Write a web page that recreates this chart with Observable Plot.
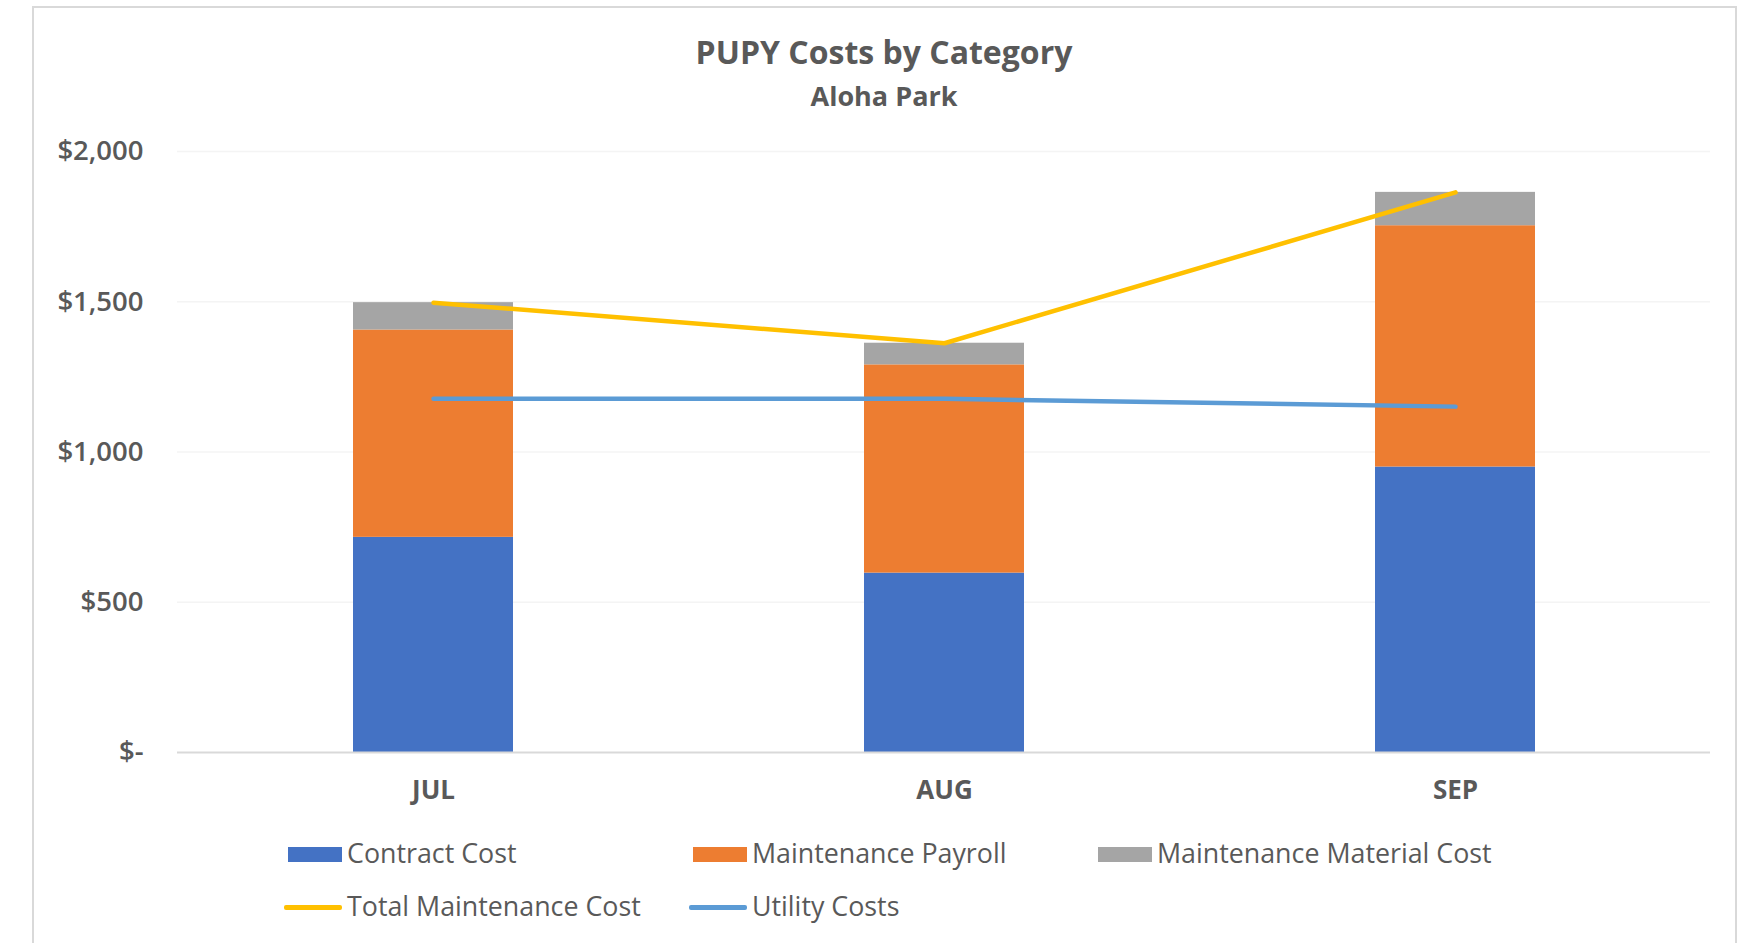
<!DOCTYPE html>
<html>
<head>
<meta charset="utf-8">
<script src="https://cdn.jsdelivr.net/npm/d3@7"></script>
<script src="https://cdn.jsdelivr.net/npm/@observablehq/plot@0.6"></script>
<style>
  html, body { margin: 0; padding: 0; background: #fff; width: 1748px; height: 943px; overflow: hidden; }
  body { position: relative; font-family: "Open Sans", sans-serif; color: #595959; }
  #frame { position: absolute; left: 32px; top: 6px; width: 1705px; height: 1000px; border: 2px solid #D9D9D9; box-sizing: border-box; }
  #title { position: absolute; left: 0; width: 1768px; top: 30px; text-align: center; font-weight: 700; font-size: 32px; line-height: 44px; }
  #subtitle { position: absolute; left: 0; width: 1768px; top: 77px; text-align: center; font-weight: 700; font-size: 27px; line-height: 38px; }
  #chart { position: absolute; left: 0; top: 110px; }
  .leg { position: absolute; font-size: 26.8px; line-height: 32px; white-space: nowrap; }
  .sw { position: absolute; }
</style>
</head>
<body>
<div id="frame"></div>
<div id="title">PUPY Costs by Category</div>
<div id="subtitle">Aloha Park</div>
<div id="chart"></div>
<div id="legend"></div>
<script>
const months = ["JUL", "AUG", "SEP"];
const contractCost = [716, 597, 950];
const maintenancePayroll = [690, 693, 803];
const maintenanceMaterial = [91, 72, 111];
const totalMaintenance = [1497, 1362, 1864];
const utilityCosts = [1177, 1177, 1151];
const barSeries = ["Contract Cost", "Maintenance Payroll", "Maintenance Material Cost"];
const lineSeries = ["Total Maintenance Cost", "Utility Costs"];
const seriesColors = ["#4472C4", "#ED7D31", "#A5A5A5", "#FFC000", "#5B9BD5"];
const yTicks = [0, 500, 1000, 1500, 2000];
const yTickLabels = ["$-", "$500", "$1,000", "$1,500", "$2,000"];

const barValues = [contractCost, maintenancePayroll, maintenanceMaterial];
const barRows = [];
barSeries.forEach((s, i) => months.forEach((m, j) => barRows.push({series: s, month: m, value: barValues[i][j]})));
const totalRows = months.map((m, j) => ({month: m, value: totalMaintenance[j]}));
const utilityRows = months.map((m, j) => ({month: m, value: utilityCosts[j]}));

const plot = Plot.plot({
  width: 1748,
  height: 720,
  marginLeft: 177,
  marginRight: 38,
  marginTop: 41,
  marginBottom: 78,
  style: {fontFamily: "Open Sans, sans-serif", color: "#595959", background: "transparent"},
  x: {domain: months, paddingInner: 0.687, paddingOuter: 0.3435, label: null},
  y: {domain: [0, 2000], label: null},
  color: {domain: barSeries.concat(lineSeries), range: seriesColors},
  marks: [
    Plot.ruleY(yTicks.filter(d => d > 0), {stroke: "#F4F4F4", strokeWidth: 1.5}),
    Plot.barY(barRows, {x: "month", y: "value", fill: "series"}),
    Plot.ruleY([0], {stroke: "#D9D9D9", strokeWidth: 2}),
    Plot.lineY(utilityRows, {x: "month", y: "value", stroke: seriesColors[4], strokeWidth: 4.5}),
    Plot.lineY(totalRows, {x: "month", y: "value", stroke: seriesColors[3], strokeWidth: 4.5}),
    Plot.axisY({ticks: yTicks, tickFormat: (d) => yTickLabels[yTicks.indexOf(d)], tickSize: 0, tickPadding: 34, fontSize: 27.5, fontWeight: 600, fill: "#595959"}),
    Plot.axisX({tickSize: 0, tickPadding: 28, fontSize: 26, fontWeight: 700, fill: "#595959"})
  ]
});
document.getElementById("chart").appendChild(plot);

// legend
const legend = document.getElementById("legend");
const legendPos = [
  {x: 288, y: 854}, {x: 693, y: 854}, {x: 1098, y: 854},
  {x: 288, y: 907}, {x: 693, y: 907}
];
const allSeries = barSeries.concat(lineSeries);
allSeries.forEach((s, i) => {
  const p = legendPos[i];
  const sw = document.createElement("div");
  sw.className = "sw";
  if (i < 3) {
    sw.style.cssText = `left:${p.x}px;top:${p.y - 7.5}px;width:54px;height:15px;background:${seriesColors[i]}`;
  } else {
    sw.style.cssText = `left:${p.x - 4}px;top:${p.y - 2.5}px;width:58px;height:5px;background:${seriesColors[i]};border-radius:2px`;
  }
  legend.appendChild(sw);
  const t = document.createElement("div");
  t.className = "leg";
  t.textContent = s;
  t.style.left = (p.x + 59) + "px";
  t.style.top = (p.y - 17) + "px";
  legend.appendChild(t);
});
</script>
</body>
</html>
